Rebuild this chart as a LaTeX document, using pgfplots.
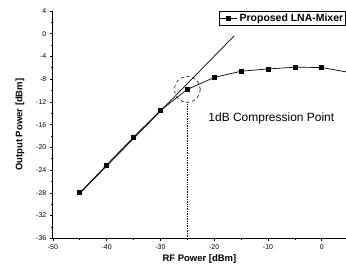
\documentclass[border=0pt]{standalone}
\usepackage{fontspec}
\setmainfont{Liberation Sans}
\usepackage{pgfplots}
\pgfplotsset{compat=1.18}
\usetikzlibrary{calc}
\begin{document}
\begin{tikzpicture}
\begin{axis}[
  scale only axis,
  width=294pt, height=228pt,
  xmin=-50, xmax=4.5,
  ymin=-36, ymax=4,
  axis lines=left,
  axis line style={-, line width=0.8pt},
  xtick={-50,-40,...,0},
  ytick={-36,-32,...,4},
  minor x tick num=1,
  minor y tick num=1,
  tick align=outside,
  major tick length=3pt,
  minor tick length=1.5pt,
  tick style={black, line width=0.6pt},
  /pgf/number format/assume math mode=true,
  ticklabel style={font=\fontsize{7}{8}\selectfont},
  xlabel={\textbf{RF Power [dBm]}},
  ylabel={\textbf{Output Power [dBm]}},
  label style={font=\fontsize{9.5}{11}\selectfont},
  xlabel style={yshift=2pt},
  ylabel style={yshift=5pt},
  clip mode=individual,
  legend style={at={(1,1)}, anchor=north east, draw=black, line width=0.6pt,
    font=\fontsize{10.5}{11}\selectfont\bfseries, inner sep=0.5pt,
    legend cell align=left},
]
\addplot[black, line width=0.7pt, mark=square*, mark size=2pt] coordinates {
  (-45,-28) (-40,-23.1) (-35,-18.2) (-30,-13.5) (-25,-9.8) (-20,-7.7)
  (-15,-6.6) (-10,-6.2) (-5,-5.9) (0,-5.95) (5,-6.8)
};
\addlegendentry{Proposed LNA-Mixer}
\addplot[black, line width=0.7pt, forget plot] coordinates {(-45,-28.1) (-16.3,-0.4)};
\addplot[black, densely dotted, line width=0.7pt, forget plot] coordinates {(-25,-12.1) (-25,-36)};
\draw[black, dashed, line width=0.6pt] (axis cs:-25,-9.8) circle[radius=13pt];
\node[anchor=west, font=\fontsize{12}{14}\selectfont, inner sep=0pt] at (axis cs:-21.1,-14.9) {1dB Compression Point};
\end{axis}
\pgfresetboundingbox
\path ($(current axis.south west)+(-53pt,-40pt)$) rectangle ($(current axis.north east)+(0pt,11pt)$);
\end{tikzpicture}
\end{document}
